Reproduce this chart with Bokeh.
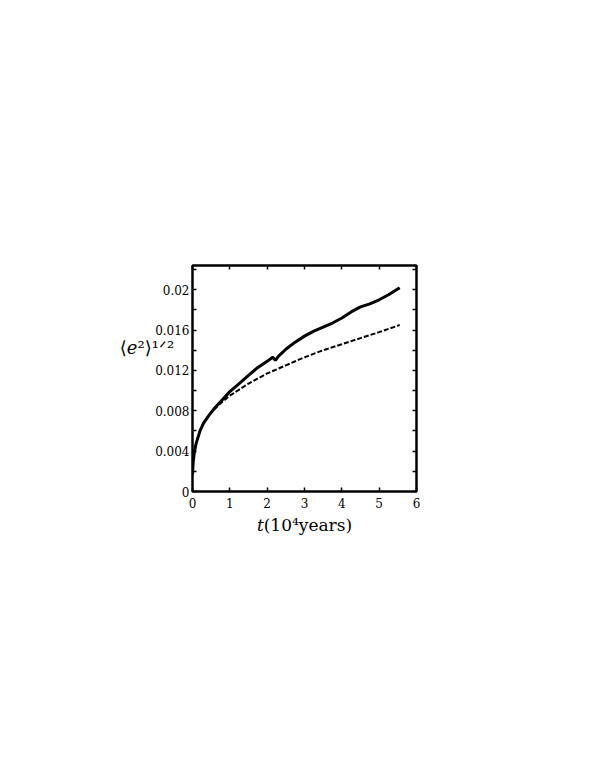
from bokeh.plotting import figure
from bokeh.models import LinearAxis, FixedTicker, Range1d
from bokeh.embed import file_html
from bokeh.resources import INLINE

# ---- data ----
t_solid = [0, 0.02, 0.05, 0.1, 0.2, 0.3, 0.45, 0.6, 0.8, 1.0, 1.25, 1.5, 1.75,
           2.0, 2.15, 2.22, 2.3, 2.5, 2.75, 3.0, 3.25, 3.5, 3.75, 4.0, 4.25,
           4.5, 4.75, 5.0, 5.25, 5.55]
e_solid = [0.0017, 0.0030, 0.0039, 0.0048, 0.0060, 0.0068, 0.0076, 0.0083,
           0.0091, 0.0099, 0.0107, 0.0115, 0.0123, 0.0129, 0.0133, 0.0130,
           0.0134, 0.0141, 0.0148, 0.0154, 0.0159, 0.0163, 0.0167, 0.0172,
           0.0178, 0.0183, 0.0186, 0.0190, 0.0195, 0.0202]

t_dash = [0, 0.02, 0.05, 0.1, 0.2, 0.3, 0.45, 0.6, 0.8, 1.0, 1.25, 1.5, 2.0,
          2.5, 3.0, 3.5, 4.0, 4.5, 5.0, 5.55]
e_dash = [0.0017, 0.0030, 0.0039, 0.0048, 0.0060, 0.0068, 0.0076, 0.0082,
          0.0089, 0.0095, 0.0101, 0.0107, 0.0117, 0.0125, 0.0133, 0.0140,
          0.0146, 0.0152, 0.0158, 0.0165]

x_ticks = [0, 1, 2, 3, 4, 5, 6]
x_tick_labels = ["0", "1", "2", "3", "4", "5", "6"]
y_ticks = [0, 0.004, 0.008, 0.012, 0.016, 0.02]
y_tick_labels = ["0", "0.004", "0.008", "0.012", "0.016", "0.02"]
y_minor = [0.002, 0.006, 0.010, 0.014, 0.018, 0.022]

x_title = "\U0001D461(10\u2074years)"
y_title = "\u27e8\U0001D452\u00b2\u27e9\u00b9\u141f\u00b2"

FONT = "DejaVu Serif"
W, H = 579, 560
LEFT, TOP, FW, FH = 192, 265, 224, 226

p = figure(width=W, height=H, x_range=Range1d(0, 6), y_range=Range1d(0, 0.0224),
           output_backend="svg", toolbar_location=None,
           min_border_left=LEFT, min_border_right=W - LEFT - FW,
           min_border_top=TOP, min_border_bottom=H - TOP - FH)
p.background_fill_color = "white"
p.border_fill_color = "white"
p.outline_line_color = "black"
p.outline_line_width = 2.5
p.xgrid.visible = False
p.ygrid.visible = False

bottom_ax = p.below[0]
left_ax = p.left[0]

p.line(t_solid, e_solid, line_color="black", line_width=3)
p.line(t_dash, e_dash, line_color="black", line_width=2, line_dash="5 2")

top_ax = LinearAxis()
right_ax = LinearAxis()
p.add_layout(top_ax, "above")
p.add_layout(right_ax, "right")

for ax in [bottom_ax, top_ax]:
    ax.ticker = FixedTicker(ticks=x_ticks)
for ax in [left_ax, right_ax]:
    ax.ticker = FixedTicker(ticks=y_ticks, minor_ticks=y_minor)

for ax in [bottom_ax, top_ax, left_ax, right_ax]:
    ax.axis_line_color = None
    ax.major_tick_in = 4
    ax.major_tick_out = 0
    ax.minor_tick_in = 4
    ax.minor_tick_out = 0
    ax.major_tick_line_width = 1.5
    ax.minor_tick_line_width = 1.5
    ax.major_tick_line_color = "black"
    ax.minor_tick_line_color = "black"
    ax.major_label_text_font = FONT
    ax.major_label_text_font_size = "12px"
    ax.major_label_text_color = "black"

bottom_ax.minor_tick_line_color = None
top_ax.minor_tick_line_color = None
top_ax.major_label_overrides = {v: "" for v in x_ticks}
right_ax.major_label_overrides = {v: "" for v in y_ticks}
bottom_ax.major_label_overrides = dict(zip(x_ticks, x_tick_labels))
left_ax.major_label_overrides = dict(zip(y_ticks, y_tick_labels))
bottom_ax.major_label_standoff = 6
left_ax.major_label_standoff = 3

bottom_ax.axis_label = x_title
bottom_ax.axis_label_text_font = FONT
bottom_ax.axis_label_text_font_size = "17px"
bottom_ax.axis_label_text_font_style = "normal"
bottom_ax.axis_label_text_color = "black"
bottom_ax.axis_label_standoff = 4

left_ax.axis_label = y_title + "\n\u00a0\n\u00a0\n\u00a0"
left_ax.axis_label_orientation = "horizontal"
left_ax.axis_label_text_font = FONT
left_ax.axis_label_text_font_size = "18px"
left_ax.axis_label_text_font_style = "normal"
left_ax.axis_label_text_line_height = 1.0
left_ax.axis_label_text_color = "black"
left_ax.axis_label_standoff = -22

open("out.html", "w").write(file_html(p, INLINE))
